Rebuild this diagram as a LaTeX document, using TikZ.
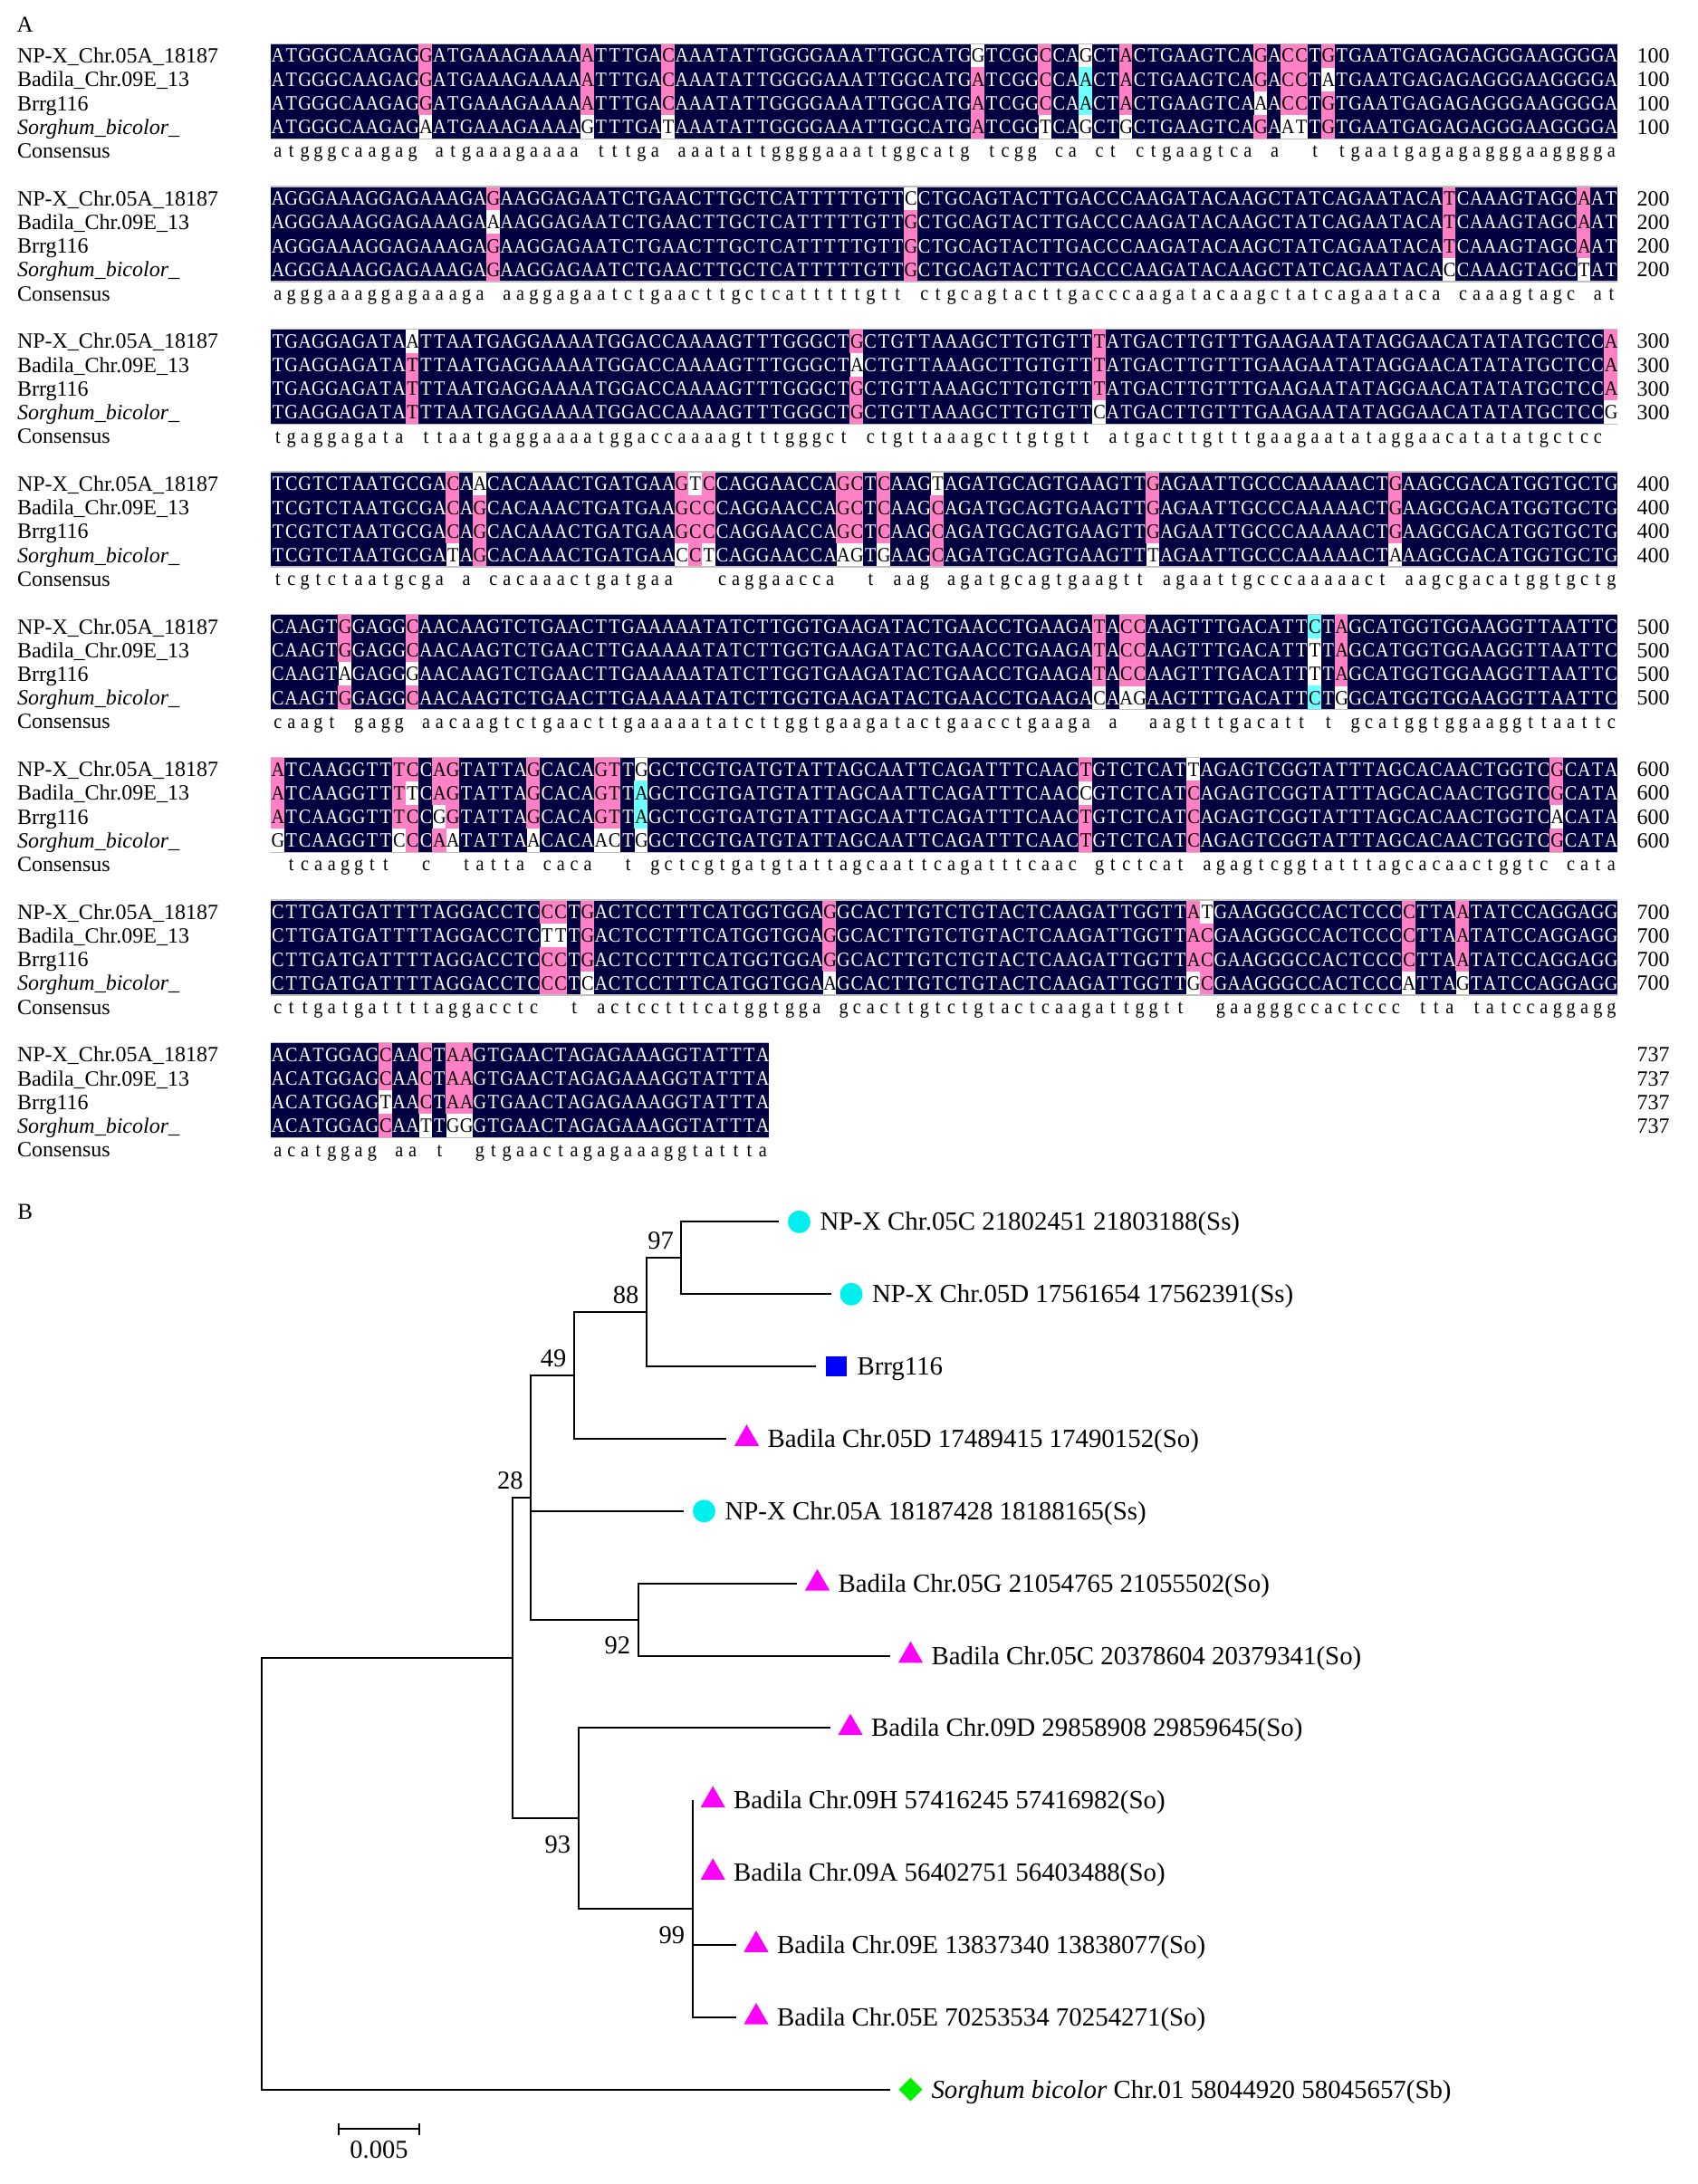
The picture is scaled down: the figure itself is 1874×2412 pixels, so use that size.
\documentclass[tikz,border=0pt]{standalone}
\usepackage{fontspec}
\setmainfont{Liberation Serif}
\usepackage{graphicx}
\usepackage{tikz}
\usetikzlibrary{shapes.geometric}

\definecolor{alnavy}{RGB}{0,0,64}
\definecolor{alpink}{RGB}{255,128,196}
\definecolor{alcyan}{RGB}{110,255,255}
\definecolor{leafcyan}{RGB}{0,240,240}
\definecolor{leafmag}{RGB}{255,0,255}
\definecolor{leafblue}{RGB}{0,0,255}
\definecolor{leafgreen}{RGB}{0,240,0}

\tikzstyle{navycell}=[fill=alnavy]
\tikzstyle{pinkcell}=[fill=alpink]
\tikzstyle{cyancell}=[fill=alcyan]
\tikzstyle{seqrow}=[anchor=base west,inner sep=0pt,text=black,font=\fontsize{9pt}{10pt}\selectfont]
\tikzstyle{bandedge}=[draw=black!25,line width=0.5pt]
\tikzstyle{rowlabel}=[anchor=base west,inner sep=0pt,font=\fontsize{9.6pt}{11pt}\selectfont]
\tikzstyle{rownum}=[anchor=base east,inner sep=0pt,font=\fontsize{9.6pt}{11pt}\selectfont]
\tikzstyle{panel}=[inner sep=0pt,font=\fontsize{10pt}{12pt}\selectfont]
\tikzstyle{treeedge}=[draw,line width=0.8pt]
\tikzstyle{leaflabel}=[anchor=base west,inner sep=0pt,font=\fontsize{11.55pt}{13pt}\selectfont]
\tikzstyle{bootup}=[anchor=south east,inner sep=0pt,xshift=-3.2pt,yshift=3.6pt,font=\fontsize{11.4pt}{13pt}\selectfont]
\tikzstyle{bootdown}=[anchor=north east,inner sep=0pt,xshift=-3.2pt,yshift=-7.6pt,font=\fontsize{11.4pt}{13pt}\selectfont]
\tikzstyle{npx}=[circle,fill=leafcyan,minimum size=10pt,inner sep=0pt]
\tikzstyle{badila}=[regular polygon,regular polygon sides=3,fill=leafmag,minimum size=12.6pt,inner sep=0pt]
\tikzstyle{brrg}=[rectangle,fill=leafblue,minimum size=9pt,inner sep=0pt]
\tikzstyle{sorghum}=[diamond,fill=leafgreen,minimum size=10.5pt,inner sep=0pt]

% one letter of a row (rows are squeezed to 0.9 afterwards)
\newcommand{\alcell}[1]{\makebox[6.609pt][c]{#1}}

% one block of the alignment: block number, then the four sequences
\ExplSyntaxOn
\tl_new:c { l_al_s0_tl }
\tl_new:c { l_al_s1_tl }
\tl_new:c { l_al_s2_tl }
\tl_new:c { l_al_s3_tl }
\tl_new:c { l_al_line0_tl }
\tl_new:c { l_al_line1_tl }
\tl_new:c { l_al_line2_tl }
\tl_new:c { l_al_line3_tl }
\tl_new:N \l_al_line_tl
\tl_new:N \l_al_cons_tl
\tl_new:N \l_al_style_tl
\tl_new:N \l_al_text_tl
\tl_new:N \l_al_other_tl
\tl_new:N \l_al_run_tl
\tl_new:N \l_al_curtext_tl
\int_new:N \l_al_n_int
\int_new:N \l_al_start_int
\int_new:N \l_al_len_int
\fp_new:N \l_al_y_fp

\cs_new:Npn \al_same:nn #1#2 { \str_if_eq:nnTF {#1} {#2} {1} {0} }
\cs_new:Npn \al_cnt:nnnnn #1#2#3#4#5
  { \int_eval:n { \al_same:nn {#1}{#2} + \al_same:nn {#1}{#3} + \al_same:nn {#1}{#4} + \al_same:nn {#1}{#5} } }
\cs_new:Npn \al_code:n #1 { \str_case:nn {#1} { {A}{1} {C}{2} {G}{3} {T}{4} } }

\cs_new_protected:Npn \al_pair_aux:nnnnnn #1#2#3#4#5#6
  {
    \bool_lazy_and:nnTF
      { \int_compare_p:nNn { \al_cnt:nnnnn {#1}{#3}{#4}{#5}{#6} } = { 2 } }
      { \int_compare_p:nNn { \al_code:n {#1} } < { \al_code:n {#2} } }
      { \tl_set:Nn \l_al_style_tl { none } }
      { \tl_set:Nn \l_al_style_tl { cyancell } }
  }
\cs_new_protected:Npn \al_pair:nnnnn #1#2#3#4#5
  {
    \tl_clear:N \l_al_other_tl
    \tl_map_inline:nn { {#2}{#3}{#4}{#5} }
      { \str_if_eq:nnF {##1} {#1} { \tl_set:Nn \l_al_other_tl {##1} } }
    \exp_args:NV \al_pair_aux:nnnnnn \l_al_other_tl {#1} {#2} {#3} {#4} {#5}
  }

\cs_new_protected:Npn \al_style:nnnnn #1#2#3#4#5
  {
    \int_set:Nn \l_al_n_int { \al_cnt:nnnnn {#1}{#2}{#3}{#4}{#5} }
    \tl_set:Nn \l_al_style_tl { none }
    \tl_set:Nn \l_al_text_tl { dark }
    \int_case:nn { \l_al_n_int }
      {
        { 4 } { \tl_set:Nn \l_al_style_tl { navycell } \tl_set:Nn \l_al_text_tl { light } }
        { 3 } { \tl_set:Nn \l_al_style_tl { pinkcell } }
        { 2 } { \al_pair:nnnnn {#1}{#2}{#3}{#4}{#5} }
      }
  }

\cs_new_protected:Npn \al_flush:nn #1#2
  {
    \str_if_eq:VnF \l_al_run_tl { none }
      {
        \use:e
          {
            \exp_not:N \fill [ \l_al_run_tl ]
              ( \fp_eval:n { 299 + ( \l_al_start_int - 1 ) * 14.87 - 0.2 } ,
                \fp_eval:n { \l_al_y_fp + #1 * 26.2 - 13.3 } )
              rectangle
              ( \fp_eval:n { 299 + ( #2 - 1 ) * 14.87 + 0.2 } ,
                \fp_eval:n { \l_al_y_fp + #1 * 26.2 + 13.3 } ) ;
          }
      }
  }

\cs_new_protected:Npn \al_row:n #1
  {
    \tl_set:Nn \l_al_run_tl { none }
    \int_set:Nn \l_al_start_int { 1 }
    \tl_clear:N \l_al_line_tl
    \tl_set:Nn \l_al_curtext_tl { dark }
    \int_step_inline:nn { \l_al_len_int }
      {
        \use:e
          {
            \exp_not:N \al_style:nnnnn
              { \tl_item:cn { l_al_s#1_tl } {##1} }
              { \tl_item:cn { l_al_s0_tl } {##1} }
              { \tl_item:cn { l_al_s1_tl } {##1} }
              { \tl_item:cn { l_al_s2_tl } {##1} }
              { \tl_item:cn { l_al_s3_tl } {##1} }
          }
        \str_if_eq:VVF \l_al_style_tl \l_al_run_tl
          {
            \al_flush:nn {#1} {##1}
            \tl_set_eq:NN \l_al_run_tl \l_al_style_tl
            \int_set:Nn \l_al_start_int {##1}
          }
        \str_if_eq:VVF \l_al_text_tl \l_al_curtext_tl
          {
            \tl_set_eq:NN \l_al_curtext_tl \l_al_text_tl
            \str_if_eq:VnTF \l_al_text_tl { light }
              { \tl_put_right:Nn \l_al_line_tl { \color{white} } }
              { \tl_put_right:Nn \l_al_line_tl { \color{black} } }
          }
        \tl_put_right:Nx \l_al_line_tl
          { \exp_not:N \alcell { \tl_item:cn { l_al_s#1_tl } {##1} } }
      }
    \al_flush:nn {#1} { \l_al_len_int + 1 }
    \tl_set_eq:cN { l_al_line#1_tl } \l_al_line_tl
  }

\cs_new_protected:Npn \al_cons:nnnn #1#2#3#4
  {
    \int_compare:nNnTF { \al_cnt:nnnnn {#1}{#1}{#2}{#3}{#4} } = { 4 }
      { \tl_put_right:Nx \l_al_cons_tl { \exp_not:N \alcell { \str_lowercase:n {#1} } } }
      { \tl_put_right:Nn \l_al_cons_tl { \alcell { } } }
  }

\NewDocumentCommand \alignblock { m m m m m }
  {
    \fp_set:Nn \l_al_y_fp { 61.5 + #1 * 157.6 }
    \tl_set:cn { l_al_s0_tl } {#2} \tl_remove_all:cn { l_al_s0_tl } { ~ }
    \tl_set:cn { l_al_s1_tl } {#3} \tl_remove_all:cn { l_al_s1_tl } { ~ }
    \tl_set:cn { l_al_s2_tl } {#4} \tl_remove_all:cn { l_al_s2_tl } { ~ }
    \tl_set:cn { l_al_s3_tl } {#5} \tl_remove_all:cn { l_al_s3_tl } { ~ }
    \int_set:Nn \l_al_len_int { \tl_count:c { l_al_s0_tl } }
    \al_row:n {0}
    \al_row:n {1}
    \al_row:n {2}
    \al_row:n {3}
    \tl_clear:N \l_al_cons_tl
    \int_step_inline:nn { \l_al_len_int }
      {
        \use:e
          {
            \exp_not:N \al_cons:nnnn
              { \tl_item:cn { l_al_s0_tl } {##1} }
              { \tl_item:cn { l_al_s1_tl } {##1} }
              { \tl_item:cn { l_al_s2_tl } {##1} }
              { \tl_item:cn { l_al_s3_tl } {##1} }
          }
      }
    \int_step_inline:nnn {0} {3}
      {
        \use:e
          {
            \exp_not:N \node [ seqrow ] ~ at ~
              ( 299 , \fp_eval:n { \l_al_y_fp + ##1 * 26.2 + 7.5 } )
              { \exp_not:N \scalebox {0.9} [1] { \exp_not:v { l_al_line##1_tl } } } ;
          }
      }
    \use:e
      {
        \exp_not:N \node [ seqrow ] ~ at ~
          ( 299 , \fp_eval:n { \l_al_y_fp + 4 * 26.2 + 7.5 } )
          { \exp_not:N \scalebox {0.9} [1] { \exp_not:V \l_al_cons_tl } } ;
        \exp_not:N \draw [ bandedge ]
          ( 299 , \fp_eval:n { \l_al_y_fp - 13.2 } ) --
          ( \fp_eval:n { 299 + 14.87 * \l_al_len_int } , \fp_eval:n { \l_al_y_fp - 13.2 } )
          ( 299 , \fp_eval:n { \l_al_y_fp + 91.8 } ) --
          ( \fp_eval:n { 299 + 14.87 * \l_al_len_int } , \fp_eval:n { \l_al_y_fp + 91.8 } ) ;
      }
  }
\ExplSyntaxOff

\begin{document}
\begin{tikzpicture}[x=0.4pt,y=-0.4pt]
    \useasboundingbox (0,0) rectangle (1874,2412);
    % A: the alignment
    \node[panel] (panelA) at (27.7,27.7) {A};

    \alignblock{0}
     {ATGGGCAAGAG G ATGAAAGAAAA A TTTGA C AAATATTGGGGAAATTGGCATG G TCGG C CA G CT A CTGAAGTCA G A CC T G TGAATGAGAGAGGGAAGGGGA}
     {ATGGGCAAGAG G ATGAAAGAAAA A TTTGA C AAATATTGGGGAAATTGGCATG A TCGG C CA A CT A CTGAAGTCA G A CC T A TGAATGAGAGAGGGAAGGGGA}
     {ATGGGCAAGAG G ATGAAAGAAAA A TTTGA C AAATATTGGGGAAATTGGCATG A TCGG C CA A CT A CTGAAGTCA A A CC T G TGAATGAGAGAGGGAAGGGGA}
     {ATGGGCAAGAG A ATGAAAGAAAA G TTTGA T AAATATTGGGGAAATTGGCATG A TCGG T CA G CT G CTGAAGTCA G A AT T G TGAATGAGAGAGGGAAGGGGA}
    \alignblock{1}
     {AGGGAAAGGAGAAAGA G AAGGAGAATCTGAACTTGCTCATTTTTGTT C CTGCAGTACTTGACCCAAGATACAAGCTATCAGAATACA T CAAAGTAGC A AT}
     {AGGGAAAGGAGAAAGA A AAGGAGAATCTGAACTTGCTCATTTTTGTT G CTGCAGTACTTGACCCAAGATACAAGCTATCAGAATACA T CAAAGTAGC A AT}
     {AGGGAAAGGAGAAAGA G AAGGAGAATCTGAACTTGCTCATTTTTGTT G CTGCAGTACTTGACCCAAGATACAAGCTATCAGAATACA T CAAAGTAGC A AT}
     {AGGGAAAGGAGAAAGA G AAGGAGAATCTGAACTTGCTCATTTTTGTT G CTGCAGTACTTGACCCAAGATACAAGCTATCAGAATACA C CAAAGTAGC T AT}
    \alignblock{2}
     {TGAGGAGATA A TTAATGAGGAAAATGGACCAAAAGTTTGGGCT G CTGTTAAAGCTTGTGTT T ATGACTTGTTTGAAGAATATAGGAACATATATGCTCC A}
     {TGAGGAGATA T TTAATGAGGAAAATGGACCAAAAGTTTGGGCT A CTGTTAAAGCTTGTGTT T ATGACTTGTTTGAAGAATATAGGAACATATATGCTCC A}
     {TGAGGAGATA T TTAATGAGGAAAATGGACCAAAAGTTTGGGCT G CTGTTAAAGCTTGTGTT T ATGACTTGTTTGAAGAATATAGGAACATATATGCTCC A}
     {TGAGGAGATA T TTAATGAGGAAAATGGACCAAAAGTTTGGGCT G CTGTTAAAGCTTGTGTT C ATGACTTGTTTGAAGAATATAGGAACATATATGCTCC G}
    \alignblock{3}
     {TCGTCTAATGCGA C A A CACAAACTGATGAA G T C CAGGAACCA G C T C AAG T AGATGCAGTGAAGTT G AGAATTGCCCAAAAACT G AAGCGACATGGTGCTG}
     {TCGTCTAATGCGA C A G CACAAACTGATGAA G C C CAGGAACCA G C T C AAG C AGATGCAGTGAAGTT G AGAATTGCCCAAAAACT G AAGCGACATGGTGCTG}
     {TCGTCTAATGCGA C A G CACAAACTGATGAA G C C CAGGAACCA G C T C AAG C AGATGCAGTGAAGTT G AGAATTGCCCAAAAACT G AAGCGACATGGTGCTG}
     {TCGTCTAATGCGA T A G CACAAACTGATGAA C C T CAGGAACCA A G T G AAG C AGATGCAGTGAAGTT T AGAATTGCCCAAAAACT A AAGCGACATGGTGCTG}
    \alignblock{4}
     {CAAGT G GAGG C AACAAGTCTGAACTTGAAAAATATCTTGGTGAAGATACTGAACCTGAAGA T A CC AAGTTTGACATT C T A GCATGGTGGAAGGTTAATTC}
     {CAAGT G GAGG C AACAAGTCTGAACTTGAAAAATATCTTGGTGAAGATACTGAACCTGAAGA T A CC AAGTTTGACATT T T A GCATGGTGGAAGGTTAATTC}
     {CAAGT A GAGG G AACAAGTCTGAACTTGAAAAATATCTTGGTGAAGATACTGAACCTGAAGA T A CC AAGTTTGACATT T T A GCATGGTGGAAGGTTAATTC}
     {CAAGT G GAGG C AACAAGTCTGAACTTGAAAAATATCTTGGTGAAGATACTGAACCTGAAGA C A AG AAGTTTGACATT C T G GCATGGTGGAAGGTTAATTC}
    \alignblock{5}
     {A TCAAGGTT T C C A G TATTA G CACA G T T G GCTCGTGATGTATTAGCAATTCAGATTTCAAC T GTCTCAT T AGAGTCGGTATTTAGCACAACTGGTC G CATA}
     {A TCAAGGTT T T C A G TATTA G CACA G T T A GCTCGTGATGTATTAGCAATTCAGATTTCAAC C GTCTCAT C AGAGTCGGTATTTAGCACAACTGGTC G CATA}
     {A TCAAGGTT T C C G G TATTA G CACA G T T A GCTCGTGATGTATTAGCAATTCAGATTTCAAC T GTCTCAT C AGAGTCGGTATTTAGCACAACTGGTC A CATA}
     {G TCAAGGTT C C C A A TATTA A CACA A C T G GCTCGTGATGTATTAGCAATTCAGATTTCAAC T GTCTCAT C AGAGTCGGTATTTAGCACAACTGGTC G CATA}
    \alignblock{6}
     {CTTGATGATTTTAGGACCTC C C T G ACTCCTTTCATGGTGGA G GCACTTGTCTGTACTCAAGATTGGTT A T GAAGGGCCACTCCC C TTA A TATCCAGGAGG}
     {CTTGATGATTTTAGGACCTC T T T G ACTCCTTTCATGGTGGA G GCACTTGTCTGTACTCAAGATTGGTT A C GAAGGGCCACTCCC C TTA A TATCCAGGAGG}
     {CTTGATGATTTTAGGACCTC C C T G ACTCCTTTCATGGTGGA G GCACTTGTCTGTACTCAAGATTGGTT A C GAAGGGCCACTCCC C TTA A TATCCAGGAGG}
     {CTTGATGATTTTAGGACCTC C C T C ACTCCTTTCATGGTGGA A GCACTTGTCTGTACTCAAGATTGGTT G C GAAGGGCCACTCCC A TTA G TATCCAGGAGG}
    \alignblock{7}
     {ACATGGAG C AA C T AA GTGAACTAGAGAAAGGTATTTA}
     {ACATGGAG C AA C T AA GTGAACTAGAGAAAGGTATTTA}
     {ACATGGAG T AA C T AA GTGAACTAGAGAAAGGTATTTA}
     {ACATGGAG C AA T T GG GTGAACTAGAGAAAGGTATTTA}

    % row names and positions
    \foreach \k/\num in {0/100,1/200,2/300,3/400,4/500,5/600,6/700,7/737} {
        \foreach \r/\name in {0/{NP-X\_Chr.05A\_18187},1/{Badila\_Chr.09E\_13},2/Brrg116,3/{\textit{Sorghum\_bicolor\_}},4/Consensus}
            \node[rowlabel] (lab\k\r) at (18.5,{61.5+\k*157.6+\r*26.2+8.2}) {\name};
        \foreach \r in {0,...,3}
            \node[rownum] (num\k\r) at (1844,{61.5+\k*157.6+\r*26.2+8.2}) {\num};
    }

    % B: the tree
    \node[panel] (panelB) at (27.7,1338.6) {B};

    % inner nodes
    \foreach \name/\x/\y in {root/289.3/2069.3, nX/566.2/1831.0, n28/586.2/1653.8,
        n49/633.9/1519.1, n88/713.9/1449.2, n97/752.4/1389.3, n92/704.7/1788.6,
        n93/638.5/2008.2, n99/764.7/2108.0}
        \coordinate (\name) at (\x,\y);

    % leaves
    \foreach \name/\i/\xend in {l0/0/860, l1/1/917.5, l2/2/901, l3/3/802, l4/4/755, l5/5/880, l6/6/983,
        l7/7/916.5, l8/8/764.7, l9/9/764.7, l10/10/812.5, l11/11/812.5, l12/12/983}
        \coordinate (\name) at (\xend,{1349.4+79.85*\i});

    % branches
    \foreach \source/\dest in {n97/l0, n97/l1, n88/n97, n88/l2, n49/n88, n49/l3, n28/n49, n28/l4,
        n28/n92, n92/l5, n92/l6, nX/n28, nX/n93, n93/l7, n93/n99, n99/l8, n99/l9, n99/l10, n99/l11,
        root/nX, root/l12}
        \path[treeedge] (\source) |- (\dest);

    % markers and names
    \foreach \name/\sym/\label in {l0/npx/{NP-X Chr.05C 21802451 21803188(Ss)},
        l1/npx/{NP-X Chr.05D 17561654 17562391(Ss)},
        l2/brrg/Brrg116,
        l3/badila/{Badila Chr.05D 17489415 17490152(So)},
        l4/npx/{NP-X Chr.05A 18187428 18188165(Ss)},
        l5/badila/{Badila Chr.05G 21054765 21055502(So)},
        l6/badila/{Badila Chr.05C 20378604 20379341(So)},
        l7/badila/{Badila Chr.09D 29858908 29859645(So)},
        l8/badila/{Badila Chr.09H 57416245 57416982(So)},
        l9/badila/{Badila Chr.09A 56402751 56403488(So)},
        l10/badila/{Badila Chr.09E 13837340 13838077(So)},
        l11/badila/{Badila Chr.05E 70253534 70254271(So)},
        l12/sorghum/{\textit{Sorghum bicolor} Chr.01 58044920 58045657(Sb)}} {
        \node[\sym, xshift=9pt] (s\name) at (\name) {};
        \node[leaflabel, xshift=18pt, yshift=-3.8pt] (t\name) at (\name) {\label};
    }

    % bootstrap values
    \foreach \n/\v in {n97/97, n88/88, n49/49, n28/28}
        \node[bootup] (b\n) at (\n) {\v};
    \foreach \n/\v in {n92/92, n93/93, n99/99}
        \node[bootdown] (b\n) at (\n) {\v};

    % scale bar
    \coordinate (sbL) at (373.9,2351);
    \coordinate (sbR) at (463.1,2351);
    \path[treeedge] (sbL) -- (sbR);
    \path[treeedge] ([yshift=2.6pt]sbL) -- ([yshift=-2.6pt]sbL);
    \path[treeedge] ([yshift=2.6pt]sbR) -- ([yshift=-2.6pt]sbR);
    \node[inner sep=0pt, font=\fontsize{11.4pt}{13pt}\selectfont] (sbtext) at (418.5,2374) {0.005};
\end{tikzpicture}
\end{document}
